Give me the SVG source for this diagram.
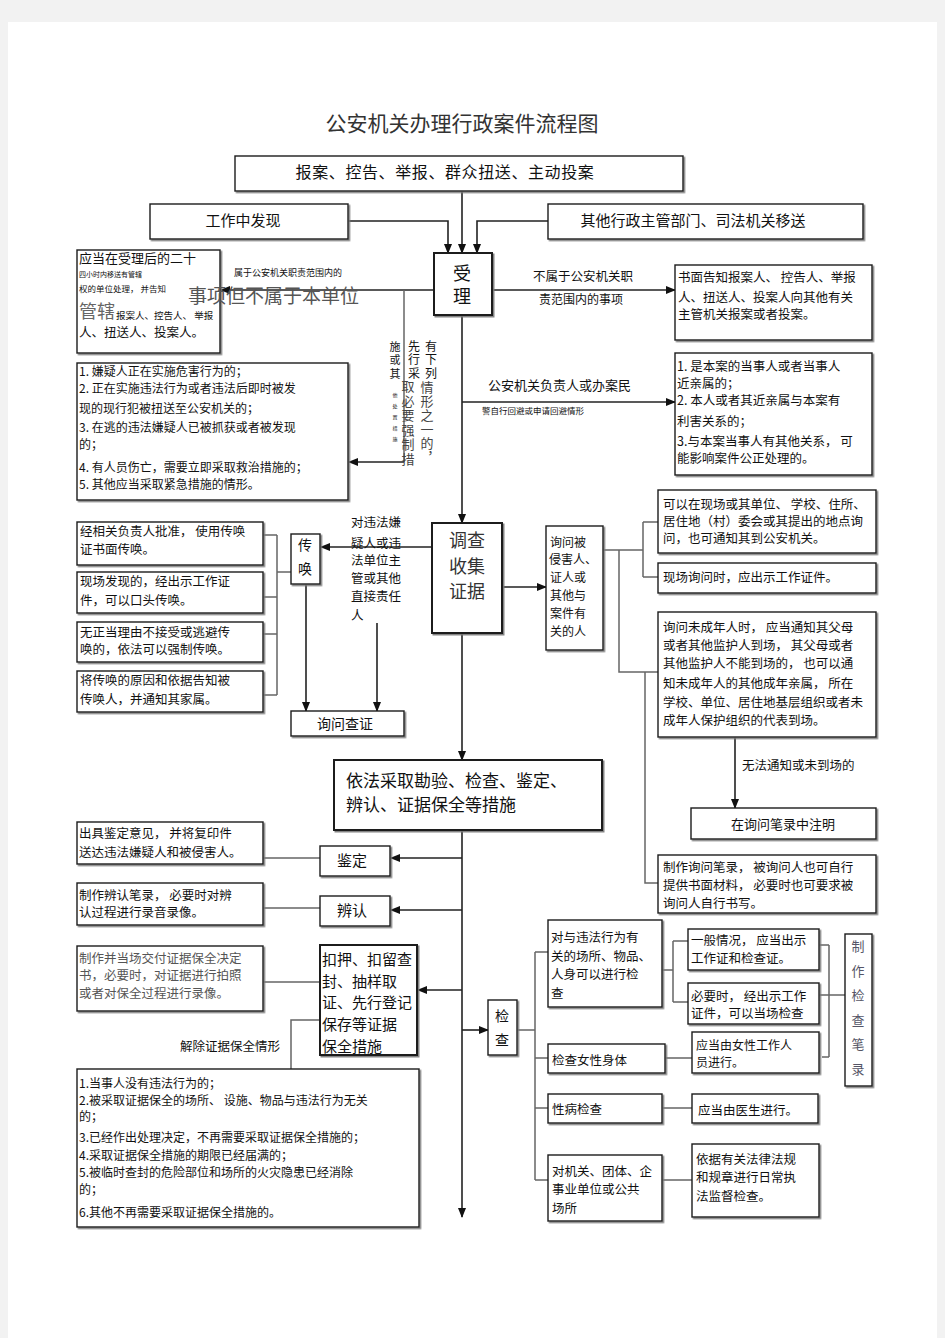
<svg xmlns="http://www.w3.org/2000/svg" width="945" height="1338" viewBox="0 0 945 1338">
<defs>
<marker id="ar" markerWidth="10" markerHeight="10" refX="9" refY="5" orient="auto" markerUnits="userSpaceOnUse"><path d="M0,1 L10,5 L0,9 z" fill="#111"/></marker>
<filter id="sh" x="-5%" y="-5%" width="115%" height="115%"><feDropShadow dx="1.5" dy="1.5" stdDeviation="0.3" flood-color="#777" flood-opacity="0.9"/></filter>
<style>
.b{fill:#fff;stroke:#1a1a1a;stroke-width:1.4;filter:url(#sh)}
.bb{fill:#fff;stroke:#1a1a1a;stroke-width:2;filter:url(#sh)}
.t{font-family:"Noto Sans CJK SC","Liberation Sans",sans-serif;font-size:12.5px;fill:#111}
.s{font-size:12px}
.v{writing-mode:vertical-rl}
.c{stroke:#222;stroke-width:1.6;fill:none}
.g{stroke:#666;stroke-width:1.5;fill:none}
.mid{text-anchor:middle}
</style>
</defs>
<rect x="0" y="0" width="945" height="1338" fill="#f2f2f2"/>
<rect x="8" y="22" width="929" height="1316" fill="#fff"/>
<text class="t mid" x="462" y="131" style="font-size:21px;fill:#333">公安机关办理行政案件流程图</text>

<g id="connectors">
<path class="c" d="M462,191 V253" marker-end="url(#ar)"/>
<path class="c" d="M348,221 H448 V253" marker-end="url(#ar)"/>
<path class="c" d="M548,221 H477 V253" marker-end="url(#ar)"/>
<path class="c" d="M434,290 H221" marker-end="url(#ar)"/>
<path class="g" d="M404,290 V462"/>
<path class="c" d="M404,462 H349" marker-end="url(#ar)"/>
<path class="c" d="M492,290 H675" marker-end="url(#ar)"/>
<path class="c" d="M462,315 V523" marker-end="url(#ar)"/>
<path class="c" d="M462,402 H675" marker-end="url(#ar)"/>
<path class="c" d="M432,547 H321" marker-end="url(#ar)"/>
<path class="g" d="M263,535 H277 M263,597 H277 M263,634 H277 M263,695 H277 M277,535 V695 M277,572 H291"/>
<path class="c" d="M306,584 V711" marker-end="url(#ar)"/>
<path class="c" d="M377,623 V711" marker-end="url(#ar)"/>
<path class="c" d="M502,587 H546" marker-end="url(#ar)"/>
<path class="g" d="M603,550 H643 M643,522 V577 M643,522 H658 M643,577 H658 M619,550 V672 H658 M645,672 V883 H658"/>
<path class="c" d="M735,737 V808" marker-end="url(#ar)"/>
<path class="c" d="M462,633 V760" marker-end="url(#ar)"/>
<path class="c" d="M462,830 V1217" marker-end="url(#ar)"/>
<path class="c" d="M462,858 H391" marker-end="url(#ar)"/>
<path class="c" d="M462,910 H391" marker-end="url(#ar)"/>
<path class="c" d="M462,990 H418" marker-end="url(#ar)"/>
<path class="g" d="M263,858 H320 M263,908 H320 M263,982 H320"/>
<path class="g" d="M320,1020 H291 V1069"/>
<path class="c" d="M462,1030 H488" marker-end="url(#ar)"/>
<path class="g" d="M517,1030 H535 M535,952 V1180 M535,952 H548 M535,1058 H548 M535,1108 H548 M535,1180 H548"/>
<path class="g" d="M662,970 H673 M673,941 V1002 M673,941 H688 M673,1002 H688"/>
<path class="g" d="M662,1058 H692 M662,1108 H692 M662,1180 H692"/>
<path class="g" d="M819,945 H829 M822,1057 H829 M829,945 V1057 M819,995 H845"/>
</g>

<g id="n-source"><rect class="b" x="235" y="156" width="448" height="35"/><text class="t mid" x="445" y="178" style="font-size:16px;letter-spacing:0.6px">报案、控告、举报、群众扭送、主动投案</text></g>
<g id="n-work"><rect class="b" x="150" y="204" width="198" height="35"/><text class="t mid" x="243" y="226" style="font-size:15px">工作中发现</text></g>
<g id="n-transfer"><rect class="b" x="548" y="204" width="315" height="35"/><text class="t mid" x="693" y="226" style="font-size:15px">其他行政主管部门、司法机关移送</text></g>

<g id="n-accept"><rect class="bb" x="434" y="253" width="58" height="62"/><text class="t v" x="462" y="264" style="font-size:18px;letter-spacing:5px">受理</text></g>

<g id="n-transfer-24h"><rect class="b" x="77" y="250" width="143" height="103"/>
<text class="t" x="79" y="263" style="font-size:13px">应当在受理后的二十</text>
<text class="t" x="79" y="277" style="font-size:7px">四小时内移送有管辖</text>
<text class="t" x="79" y="292" style="font-size:8.5px">权的单位处理，  并告知</text>
<text class="t" x="79" y="318" style="font-size:18px;fill:#666">管辖</text>
<text class="t" x="116" y="319" style="font-size:9.5px">报案人、控告人、  举报</text>
<text class="t" x="79" y="337" style="font-size:12.5px">人、扭送人、投案人。</text>
</g>
<g id="l-within"><text class="t" x="234" y="276" style="font-size:9px">属于公安机关职责范围内的</text>
<text class="t" x="188" y="303" style="font-size:19px;fill:#555">事项但不属于本单位</text></g>

<g id="l-vertical">
<text class="t v" x="431" y="340" style="font-size:12px;letter-spacing:1.5px">有下列</text>
<text class="t v" x="427" y="381" style="font-size:13px;letter-spacing:1px;fill:#444">情形之一的，</text>
<text class="t v" x="414" y="340" style="font-size:12px;letter-spacing:1.5px">先行采</text>
<text class="t v" x="408" y="380" style="font-size:13px;letter-spacing:1.5px;fill:#444">取必要强制措</text>
<text class="t v" x="395" y="341" style="font-size:11px;letter-spacing:2.5px">施或其</text>
<text class="t v" x="395" y="393" style="font-size:5px;letter-spacing:6px">他处置措施</text>
</g>

<g id="n-urgent"><rect class="b" x="77" y="363" width="271" height="137"/>
<text class="t s" x="79" y="376">1. 嫌疑人正在实施危害行为的；</text>
<text class="t s" x="79" y="393">2. 正在实施违法行为或者违法后即时被发</text>
<text class="t s" x="79" y="413">现的现行犯被扭送至公安机关的；</text>
<text class="t s" x="79" y="432">3. 在逃的违法嫌疑人已被抓获或者被发现</text>
<text class="t s" x="79" y="449">的；</text>
<text class="t s" x="79" y="472">4. 有人员伤亡，需要立即采取救治措施的；</text>
<text class="t s" x="79" y="489">5. 其他应当采取紧急措施的情形。</text>
</g>

<g id="l-notwithin"><text class="t" x="533" y="281" style="font-size:12.5px">不属于公安机关职</text><text class="t" x="539" y="304" style="font-size:12px">责范围内的事项</text></g>
<g id="n-notify"><rect class="b" x="675" y="265" width="197" height="75"/>
<text class="t" x="678" y="282">书面告知报案人、  控告人、举报</text>
<text class="t" x="678" y="302">人、扭送人、投案人向其他有关</text>
<text class="t" x="678" y="319">主管机关报案或者投案。</text>
</g>
<g id="l-avoid"><text class="t" x="488" y="390" style="font-size:13px">公安机关负责人或办案民</text><text class="t" x="482" y="414" style="font-size:8.5px">警自行回避或申请回避情形</text></g>
<g id="n-avoid"><rect class="b" x="675" y="353" width="197" height="122"/>
<text class="t" x="677" y="371">1. 是本案的当事人或者当事人</text>
<text class="t" x="677" y="388">近亲属的；</text>
<text class="t" x="677" y="405">2. 本人或者其近亲属与本案有</text>
<text class="t" x="677" y="426">利害关系的；</text>
<text class="t" x="677" y="446">3.与本案当事人有其他关系，    可</text>
<text class="t" x="677" y="463">能影响案件公正处理的。</text>
</g>

<g id="n-investigate"><rect class="bb" x="432" y="523" width="70" height="110"/>
<text class="t mid" x="467" y="547" style="font-size:18px;fill:#333">调查</text>
<text class="t mid" x="467" y="573" style="font-size:18px;fill:#333">收集</text>
<text class="t mid" x="467" y="598" style="font-size:18px;fill:#333">证据</text>
</g>
<g id="l-suspect"><text class="t" x="351" y="527">对违法嫌</text><text class="t" x="351" y="548">疑人或违</text><text class="t" x="351" y="565">法单位主</text><text class="t" x="351" y="583">管或其他</text><text class="t" x="351" y="601">直接责任</text><text class="t" x="351" y="620">人</text></g>
<g id="n-summon"><rect class="b" x="291" y="534" width="29" height="50"/><text class="t mid" x="305" y="550" style="font-size:14px">传</text><text class="t mid" x="305" y="574" style="font-size:14px">唤</text></g>
<g id="n-s1"><rect class="b" x="77" y="522" width="186" height="43"/><text class="t" x="80" y="536">经相关负责人批准，  使用传唤</text><text class="t" x="80" y="554">证书面传唤。</text></g>
<g id="n-s2"><rect class="b" x="77" y="572" width="186" height="41"/><text class="t" x="80" y="586">现场发现的，经出示工作证</text><text class="t" x="80" y="605">件，可以口头传唤。</text></g>
<g id="n-s3"><rect class="b" x="77" y="622" width="186" height="40"/><text class="t" x="80" y="637">无正当理由不接受或逃避传</text><text class="t" x="80" y="654">唤的，依法可以强制传唤。</text></g>
<g id="n-s4"><rect class="b" x="77" y="671" width="186" height="41"/><text class="t" x="80" y="685">将传唤的原因和依据告知被</text><text class="t" x="80" y="704">传唤人，并通知其家属。</text></g>
<g id="n-inquiry"><rect class="b" x="291" y="711" width="113" height="25"/><text class="t mid" x="345" y="729" style="font-size:14px">询问查证</text></g>

<g id="n-ask"><rect class="b" x="546" y="526" width="57" height="124"/>
<text class="t s" x="550" y="547">询问被</text><text class="t s" x="549" y="564">侵害人、</text><text class="t s" x="550" y="582">证人或</text><text class="t s" x="550" y="600">其他与</text><text class="t s" x="550" y="618">案件有</text><text class="t s" x="550" y="636">关的人</text>
</g>
<g id="n-a1"><rect class="b" x="658" y="490" width="218" height="63"/><text class="t" x="663" y="509">可以在现场或其单位、 学校、住所、</text><text class="t" x="663" y="526">居住地（村）委会或其提出的地点询</text><text class="t" x="663" y="543">问，也可通知其到公安机关。</text></g>
<g id="n-a2"><rect class="b" x="658" y="563" width="218" height="30"/><text class="t" x="663" y="582">现场询问时，应出示工作证件。</text></g>
<g id="n-a3"><rect class="b" x="658" y="612" width="218" height="125"/>
<text class="t" x="663" y="632">询问未成年人时，  应当通知其父母</text>
<text class="t" x="663" y="650">或者其他监护人到场，  其父母或者</text>
<text class="t" x="663" y="668">其他监护人不能到场的，  也可以通</text>
<text class="t" x="663" y="688">知未成年人的其他成年亲属，  所在</text>
<text class="t" x="663" y="707">学校、单位、居住地基层组织或者未</text>
<text class="t" x="663" y="725">成年人保护组织的代表到场。</text>
</g>
<g id="l-absent"><text class="t" x="742" y="770">无法通知或未到场的</text></g>
<g id="n-a4"><rect class="b" x="691" y="808" width="185" height="31"/><text class="t mid" x="783" y="829" style="font-size:13px">在询问笔录中注明</text></g>
<g id="n-a5"><rect class="b" x="658" y="855" width="218" height="58"/><text class="t" x="663" y="872">制作询问笔录，  被询问人也可自行</text><text class="t" x="663" y="890">提供书面材料，  必要时也可要求被</text><text class="t" x="663" y="908">询问人自行书写。</text></g>

<g id="n-measures"><rect class="bb" x="334" y="760" width="268" height="70"/><text class="t" x="346" y="787" style="font-size:17px">依法采取勘验、检查、鉴定、</text><text class="t" x="346" y="811" style="font-size:17px">辨认、证据保全等措施</text></g>

<g id="n-appraise"><rect class="b" x="320" y="846" width="70" height="30"/><text class="t mid" x="352" y="866" style="font-size:15px">鉴定</text></g>
<g id="n-appraise-d"><rect class="b" x="77" y="822" width="186" height="42"/><text class="t" x="79" y="838">出具鉴定意见，  并将复印件</text><text class="t" x="79" y="857">送达违法嫌疑人和被侵害人。</text></g>
<g id="n-identify"><rect class="b" x="320" y="896" width="70" height="30"/><text class="t mid" x="352" y="916" style="font-size:15px">辨认</text></g>
<g id="n-identify-d"><rect class="b" x="77" y="883" width="186" height="42"/><text class="t" x="79" y="900">制作辨认笔录，  必要时对辨</text><text class="t" x="79" y="917">认过程进行录音录像。</text></g>
<g id="n-preserve"><rect class="bb" x="320" y="945" width="97" height="110"/>
<text class="t" x="322" y="965" style="font-size:15px">扣押、扣留查</text>
<text class="t" x="322" y="987" style="font-size:15px">封、抽样取</text>
<text class="t" x="322" y="1008" style="font-size:15px">证、先行登记</text>
<text class="t" x="322" y="1030" style="font-size:15px">保存等证据</text>
<text class="t" x="322" y="1052" style="font-size:15px">保全措施</text>
</g>
<g id="n-preserve-d"><rect class="b" x="77" y="946" width="186" height="65"/><text class="t" x="79" y="963" style="fill:#555">制作并当场交付证据保全决定</text><text class="t" x="79" y="980" style="fill:#555">书，必要时，对证据进行拍照</text><text class="t" x="79" y="998" style="fill:#555">或者对保全过程进行录像。</text></g>
<g id="l-release"><text class="t" x="180" y="1051">解除证据保全情形</text></g>
<g id="n-release"><rect class="b" x="77" y="1069" width="342" height="158"/>
<text class="t s" x="79" y="1088">1.当事人没有违法行为的；</text>
<text class="t s" x="79" y="1105">2.被采取证据保全的场所、  设施、物品与违法行为无关</text>
<text class="t s" x="79" y="1121">的；</text>
<text class="t s" x="79" y="1142">3.已经作出处理决定，不再需要采取证据保全措施的；</text>
<text class="t s" x="79" y="1160">4.采取证据保全措施的期限已经届满的；</text>
<text class="t s" x="79" y="1177">5.被临时查封的危险部位和场所的火灾隐患已经消除</text>
<text class="t s" x="79" y="1194">的；</text>
<text class="t s" x="79" y="1217">6.其他不再需要采取证据保全措施的。</text>
</g>

<g id="n-check"><rect class="b" x="488" y="1000" width="29" height="55"/><text class="t mid" x="502" y="1021" style="font-size:14px">检</text><text class="t mid" x="502" y="1045" style="font-size:14px">查</text></g>
<g id="n-c1"><rect class="b" x="548" y="920" width="114" height="87"/><text class="t" x="551" y="942">对与违法行为有</text><text class="t" x="551" y="961">关的场所、物品、</text><text class="t" x="551" y="979">人身可以进行检</text><text class="t" x="551" y="998">查</text></g>
<g id="n-c1a"><rect class="b" x="688" y="929" width="131" height="41"/><text class="t" x="691" y="945">一般情况，  应当出示</text><text class="t" x="691" y="963">工作证和检查证。</text></g>
<g id="n-c1b"><rect class="b" x="688" y="983" width="131" height="41"/><text class="t" x="691" y="1001">必要时，  经出示工作</text><text class="t" x="691" y="1018">证件，可以当场检查</text></g>
<g id="n-c2"><rect class="b" x="548" y="1044" width="117" height="29"/><text class="t" x="552" y="1065">检查女性身体</text></g>
<g id="n-c2a"><rect class="b" x="692" y="1032" width="127" height="41"/><text class="t s" x="696" y="1050">应当由女性工作人</text><text class="t s" x="696" y="1067">员进行。</text></g>
<g id="n-c3"><rect class="b" x="548" y="1094" width="114" height="29"/><text class="t" x="552" y="1114">性病检查</text></g>
<g id="n-c3a"><rect class="b" x="692" y="1094" width="126" height="29"/><text class="t" x="698" y="1115">应当由医生进行。</text></g>
<g id="n-c4"><rect class="b" x="548" y="1155" width="114" height="66"/><text class="t" x="552" y="1176">对机关、团体、企</text><text class="t" x="552" y="1194">事业单位或公共</text><text class="t" x="552" y="1213">场所</text></g>
<g id="n-c4a"><rect class="b" x="692" y="1144" width="127" height="73"/><text class="t" x="696" y="1164">依据有关法律法规</text><text class="t" x="696" y="1182">和规章进行日常执</text><text class="t" x="696" y="1201">法监督检查。</text></g>
<g id="n-record"><rect class="b" x="845" y="934" width="27" height="152"/>
<text class="t v" x="858" y="940" style="font-size:13px;letter-spacing:11.5px;fill:#556">制作检查笔录</text>
</g>
</svg>
